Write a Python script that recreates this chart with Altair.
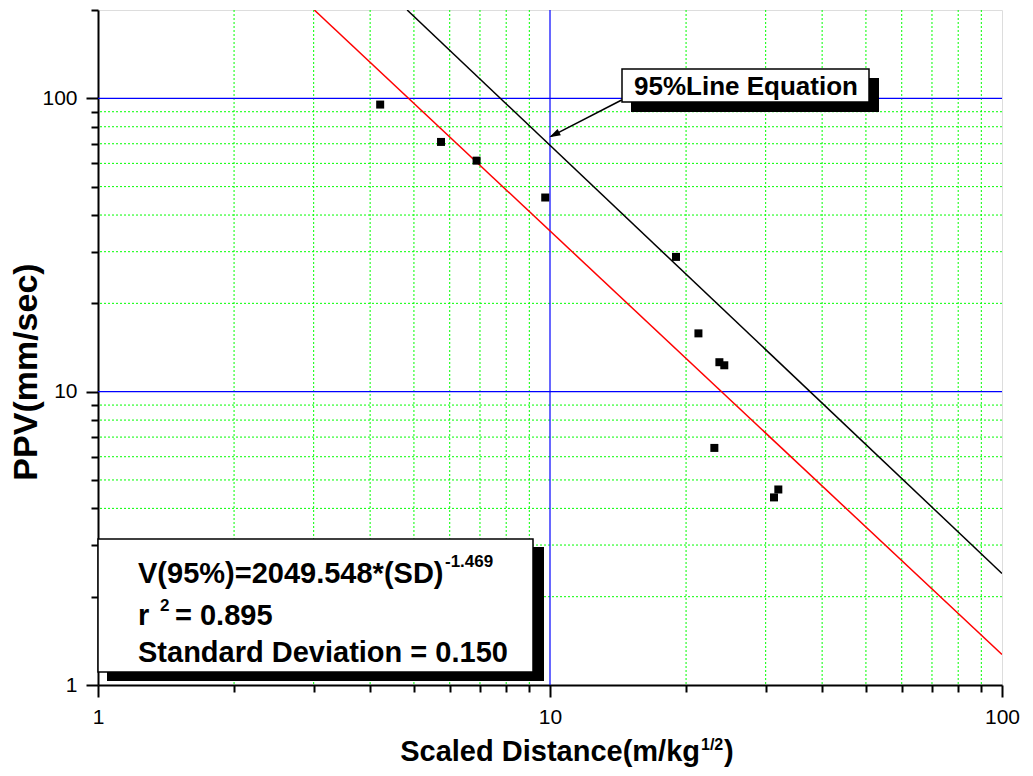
import altair as alt
import pandas as pd

# ---- data ----
sd_values = [4.21, 5.74, 6.88, 9.76, 19.0, 21.3, 23.7, 24.3, 23.1, 31.3, 32.0]
ppv_values = [95.2, 71.0, 61.3, 45.9, 28.8, 15.8, 12.6, 12.3, 6.43, 4.36, 4.64]

line95_sd = [4.83, 100.0]
line95_ppv = [200.0, 2.40]
median_sd = [3.01, 100.0]
median_ppv = [200.0, 1.27]

x_ticks = [1, 2, 3, 4, 5, 6, 7, 8, 9, 10, 20, 30, 40, 50, 60, 70, 80, 90, 100]
y_ticks = [1, 2, 3, 4, 5, 6, 7, 8, 9, 10, 20, 30, 40, 50, 60, 70, 80, 90, 100, 200]
x_minor_grid = [2, 3, 4, 5, 6, 7, 8, 9, 20, 30, 40, 50, 60, 70, 80, 90]
y_minor_grid = [2, 3, 4, 5, 6, 7, 8, 9, 20, 30, 40, 50, 60, 70, 80, 90]
x_major_grid = [10]
y_major_grid = [10, 100]
x_domain = [1, 100]
y_domain = [1, 200]

pts = pd.DataFrame({"sd": sd_values, "ppv": ppv_values})
l95 = pd.DataFrame({"sd": line95_sd, "ppv": line95_ppv})
lmed = pd.DataFrame({"sd": median_sd, "ppv": median_ppv})

FONT = "Liberation Sans"
major_test = "datum.value == 1 || datum.value == 10 || datum.value == 100"


def make_axis(ticks):
    return alt.Axis(
        values=ticks,
        title=None,
        labelExpr=f"({major_test}) ? '' + datum.value : ''",
        labelOverlap=False,
        labelFlush=False,
        labelFont=FONT,
        labelFontSize=21,
        labelColor="black",
        labelPadding=9,
        tickSize={"condition": {"test": major_test, "value": 12}, "value": 7},
        tickWidth=2,
        tickColor="black",
        domainColor="black",
        domainWidth=2,
        grid=False,
    )


xscale = alt.Scale(type="log", domain=x_domain, nice=False)
yscale = alt.Scale(type="log", domain=y_domain, nice=False)
XAX = make_axis(x_ticks)
YAX = make_axis(y_ticks)


def xenc(field):
    return alt.X(f"{field}:Q", scale=xscale, axis=XAX)


def yenc(field):
    return alt.Y(f"{field}:Q", scale=yscale, axis=YAX)


grid_x_minor = alt.Chart(pd.DataFrame({"sd": x_minor_grid})).mark_rule(
    color="#00ff00", strokeWidth=1, strokeDash=[2, 2]
).encode(x=xenc("sd"))
grid_y_minor = alt.Chart(pd.DataFrame({"ppv": y_minor_grid})).mark_rule(
    color="#00ff00", strokeWidth=1, strokeDash=[2, 2]
).encode(y=yenc("ppv"))
grid_x_major = alt.Chart(pd.DataFrame({"sd": x_major_grid})).mark_rule(
    color="#0000ff", strokeWidth=1.2
).encode(x=xenc("sd"))
grid_y_major = alt.Chart(pd.DataFrame({"ppv": y_major_grid})).mark_rule(
    color="#0000ff", strokeWidth=1.2
).encode(y=yenc("ppv"))

points = alt.Chart(pts).mark_point(
    shape="square", filled=True, size=64, color="black", opacity=1
).encode(x=xenc("sd"), y=yenc("ppv"))

line_black = alt.Chart(l95).mark_line(color="black", strokeWidth=1.5, clip=True).encode(
    x=xenc("sd"), y=yenc("ppv")
)
line_red = alt.Chart(lmed).mark_line(color="#ff0000", strokeWidth=1.5, clip=True).encode(
    x=xenc("sd"), y=yenc("ppv")
)

one = alt.Data(values=[{}])


def rect(x, x2, y, y2, fill, stroke=None, sw=0):
    kw = dict(fill=fill)
    if stroke:
        kw.update(stroke=stroke, strokeWidth=sw)
    return alt.Chart(one).mark_rect(**kw).encode(
        x=alt.value(x), x2=alt.value(x2), y=alt.value(y), y2=alt.value(y2)
    )


def txt(s, x, y, size, align="left", weight="bold", angle=0, baseline="alphabetic"):
    kw = dict(text=s, align=align, baseline=baseline, font=FONT, fontSize=size,
              fontWeight=weight, color="black")
    if angle:
        kw["angle"] = angle
    return alt.Chart(one).mark_text(**kw).encode(x=alt.value(x), y=alt.value(y))


# equation box (bottom left)
eq_shadow = rect(9, 446, 537, 671, "black")
eq_box = rect(0, 435, 529, 662, "white", "black", 1.5)
eq1 = txt("V(95%)=2049.548*(SD)", 40, 573, 29)
eq1s = txt("-1.469", 347, 557, 17)
eq2 = txt("r", 40, 615, 29)
eq2s = txt("2", 62, 601, 17)
eq2b = txt("= 0.895", 77, 615, 29)
eq3 = txt("Standard Deviation = 0.150", 40, 652, 29)

# label box with arrow
lb_shadow = rect(533, 781, 68, 102, "black")
lb_box = rect(524, 771, 59, 92, "white", "black", 1.5)
lb_text = txt("95%Line Equation", 648, 85, 26, align="center")
arrow_line = alt.Chart(one).mark_rule(color="black", strokeWidth=1.5).encode(
    x=alt.value(523.7), y=alt.value(90), x2=alt.value(453), y2=alt.value(126.4)
)
arrow_head = alt.Chart(one).mark_point(
    shape="M 0 0 L -1 -0.32 L -1 0.32 Z", size=500, filled=True, color="black",
    opacity=1, angle=152.75
).encode(x=alt.value(451.3), y=alt.value(127.3))

# axis titles
xt1 = txt("Scaled Distance(m/kg", 602, 751, 29, align="right")
xt2 = txt("1/2", 603, 740, 16)
xt3 = txt(")", 626, 751, 29)
yt = txt("PPV(mm/sec)", -71, 362, 34, align="center", angle=270, baseline="middle")

chart = alt.layer(
    grid_x_minor, grid_y_minor, grid_x_major, grid_y_major,
    line_red, line_black, points,
    eq_shadow, eq_box, eq1, eq1s, eq2, eq2s, eq2b, eq3,
    lb_shadow, lb_box, lb_text, arrow_line, arrow_head,
    xt1, xt2, xt3, yt,
).properties(
    width=904, height=675,
    autosize=alt.AutoSizeParams(type="none"),
    padding={"left": 90, "top": 2, "right": 21, "bottom": 83},
).configure_view(
    stroke="black", strokeWidth=2.5
).configure(background="white")

chart.save("out.html", embed_options={"renderer": "svg", "actions": False})
